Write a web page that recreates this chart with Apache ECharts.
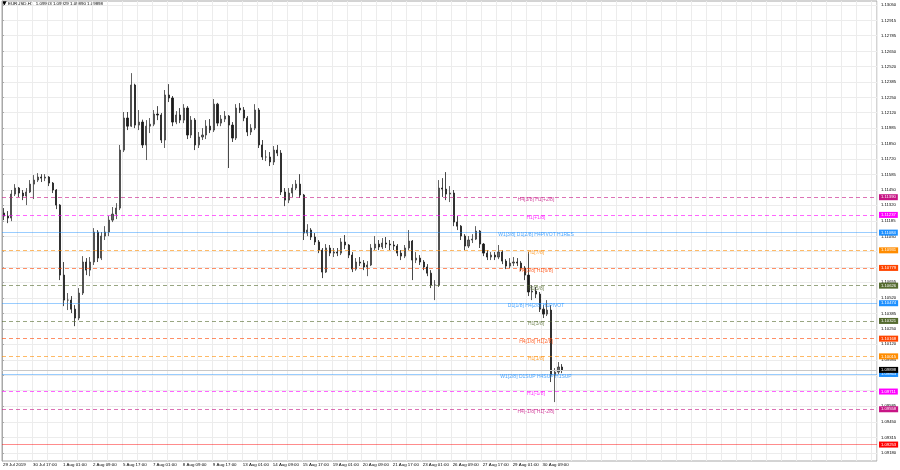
<!DOCTYPE html>
<html><head><meta charset="utf-8">
<script src="https://cdn.jsdelivr.net/npm/echarts@6/dist/echarts.min.js"></script>
<style>html,body{margin:0;padding:0;background:#fff}#c{width:900px;height:470px}</style>
</head><body><div id="c"></div>
<script>
const symbolTitle = 'EURUSD,H1';
const lastBar = [1.09903, 1.09929, 1.09890, 1.09898];
const dateLabels = ['29 Jul 2019','30 Jul 17:00','1 Aug 01:00','2 Aug 09:00','5 Aug 17:00','7 Aug 01:00','8 Aug 09:00','9 Aug 17:00','13 Aug 01:00','14 Aug 09:00','15 Aug 17:00','19 Aug 01:00','20 Aug 09:00','21 Aug 17:00','23 Aug 01:00','26 Aug 09:00','27 Aug 17:00','29 Aug 01:00','30 Aug 09:00'];
const yTickLabels = ['1.13050','1.12915','1.12785','1.12650','1.12520','1.12385','1.12250','1.12120','1.11985','1.11850','1.11720','1.11585','1.11450','1.11320','1.11185','1.11050','1.10920','1.10785','1.10655','1.10520','1.10385','1.10250','1.10120','1.09985','1.09850','1.09720','1.09585','1.09450','1.09315','1.09180'];

// H4-aggregated candles
const opens = [1.11253,1.11227,1.11210,1.11417,1.11469,1.11426,1.11400,1.11435,1.11503,1.11538,
1.11564,1.11555,1.11564,1.11512,1.11452,1.11322,1.10717,1.10501,1.10501,1.10423,
1.10346,1.10562,1.10830,1.10760,1.10830,1.11089,1.10864,1.11054,1.11089,1.11192,
1.11244,1.11296,1.11797,1.12074,1.12004,1.12359,1.12013,1.12039,1.11841,1.12004,
1.12021,1.12108,1.12100,1.11884,1.12273,1.12247,1.12039,1.12100,1.12056,1.12160,
1.11927,1.12056,1.11841,1.11910,1.11927,1.12004,1.11970,1.12194,1.12030,1.12065,
1.12091,1.12013,1.11901,1.12160,1.12143,1.12074,1.11953,1.11987,1.12143,1.11841,
1.11737,1.11737,1.11694,1.11797,1.11771,1.11435,1.11365,1.11426,1.11469,1.11503,
1.11409,1.11080,1.11106,1.11046,1.11003,1.10933,1.10743,1.10951,1.10907,1.10916,
1.10907,1.11003,1.10977,1.10890,1.10769,1.10830,1.10821,1.10787,1.10804,1.10951,
1.10985,1.10960,1.10994,1.10985,1.10977,1.10968,1.10907,1.10881,1.10951,1.11011,
1.10847,1.10864,1.10830,1.10787,1.10734,1.10631,1.10631,1.11469,1.11460,1.11417,
1.11426,1.11175,1.11140,1.11054,1.10968,1.11020,1.11028,1.11097,1.10985,1.10907,
1.10873,1.10890,1.10873,1.10916,1.10838,1.10795,1.10821,1.10830,1.10821,1.10778,
1.10717,1.10571,1.10579,1.10553,1.10423,1.10380,1.10415,1.09853,1.09879,1.09923];
const highs = [1.11296,1.11270,1.11452,1.11503,1.11478,1.11452,1.11469,1.11538,1.11581,1.11598,
1.11589,1.11589,1.11572,1.11521,1.11460,1.11330,1.10830,1.10562,1.10536,1.10458,
1.10605,1.10881,1.10864,1.10873,1.11123,1.11106,1.11089,1.11140,1.11227,1.11305,
1.11339,1.11841,1.12126,1.12126,1.12462,1.12370,1.12143,1.12060,1.12056,1.12074,
1.12143,1.12177,1.12117,1.12316,1.12367,1.12264,1.12134,1.12160,1.12194,1.12177,
1.12091,1.12074,1.11953,1.11987,1.12056,1.12065,1.12238,1.12205,1.12100,1.12134,
1.12100,1.12039,1.12194,1.12203,1.12169,1.12091,1.12021,1.12194,1.12160,1.11884,
1.11797,1.11780,1.11832,1.11841,1.11797,1.11469,1.11469,1.11503,1.11538,1.11589,
1.11418,1.11157,1.11123,1.11080,1.11020,1.10951,1.10985,1.10977,1.10951,1.10951,
1.11037,1.11063,1.10985,1.10916,1.10864,1.10873,1.10847,1.10838,1.10985,1.11054,
1.11020,1.11037,1.11046,1.11020,1.11011,1.10985,1.10933,1.10977,1.11106,1.11020,
1.10916,1.10890,1.10847,1.10812,1.10760,1.10674,1.11538,1.11555,1.11607,1.11486,
1.11452,1.11227,1.11149,1.11071,1.11054,1.11071,1.11140,1.11106,1.10994,1.10933,
1.10916,1.10916,1.10977,1.10933,1.10855,1.10864,1.10873,1.10864,1.10838,1.10795,
1.10916,1.10631,1.10614,1.10571,1.10458,1.10501,1.10458,1.09914,1.09966,1.09948];
const lows = [1.11192,1.11166,1.11183,1.11400,1.11392,1.11365,1.11322,1.11426,1.11374,1.11521,
1.11521,1.11529,1.11486,1.11426,1.11287,1.10674,1.10449,1.10415,1.10389,1.10276,
1.10328,1.10545,1.10717,1.10708,1.10804,1.10830,1.10847,1.11020,1.11054,1.11175,
1.11201,1.11279,1.11780,1.11970,1.11996,1.11987,1.11970,1.11815,1.11711,1.11944,
1.12004,1.12056,1.11858,1.11815,1.12212,1.12004,1.12021,1.12030,1.12030,1.11892,
1.11901,1.11797,1.11815,1.11884,1.11892,1.11944,1.11953,1.12004,1.12004,1.12039,
1.11642,1.11867,1.11884,1.12117,1.12047,1.11918,1.11927,1.11970,1.11815,1.11711,
1.11702,1.11659,1.11668,1.11745,1.11409,1.11313,1.11339,1.11392,1.11452,1.11383,
1.11020,1.11054,1.11020,1.10977,1.10907,1.10691,1.10735,1.10881,1.10873,1.10881,
1.10890,1.10942,1.10864,1.10743,1.10755,1.10795,1.10760,1.10708,1.10795,1.10933,
1.10933,1.10942,1.10951,1.10933,1.10933,1.10881,1.10847,1.10864,1.10933,1.10674,
1.10821,1.10804,1.10760,1.10708,1.10605,1.10501,1.10614,1.11392,1.11365,1.11348,
1.11140,1.11106,1.11020,1.10933,1.10951,1.10994,1.11020,1.10951,1.10881,1.10847,
1.10847,1.10847,1.10855,1.10812,1.10769,1.10778,1.10795,1.10795,1.10751,1.10674,
1.10536,1.10501,1.10519,1.10398,1.10346,1.10363,1.09793,1.09620,1.09861,1.09870];
const closes = [1.11227,1.11210,1.11417,1.11469,1.11426,1.11400,1.11435,1.11503,1.11538,1.11564,
1.11555,1.11564,1.11512,1.11452,1.11322,1.10717,1.10501,1.10501,1.10423,1.10346,
1.10562,1.10830,1.10760,1.10830,1.11089,1.10864,1.11054,1.11089,1.11192,1.11244,
1.11296,1.11797,1.12074,1.12004,1.12359,1.12013,1.12039,1.11841,1.12004,1.12021,
1.12108,1.12100,1.11884,1.12273,1.12247,1.12039,1.12100,1.12056,1.12160,1.11927,
1.12056,1.11841,1.11910,1.11927,1.12004,1.11970,1.12194,1.12030,1.12065,1.12091,
1.12013,1.11901,1.12160,1.12143,1.12074,1.11953,1.11987,1.12143,1.11841,1.11737,
1.11737,1.11694,1.11797,1.11771,1.11435,1.11365,1.11426,1.11469,1.11503,1.11409,
1.11080,1.11106,1.11046,1.11003,1.10933,1.10743,1.10951,1.10907,1.10916,1.10907,
1.11003,1.10977,1.10890,1.10769,1.10830,1.10821,1.10787,1.10804,1.10951,1.10985,
1.10960,1.10994,1.10985,1.10977,1.10968,1.10907,1.10881,1.10951,1.11011,1.10847,
1.10864,1.10830,1.10787,1.10734,1.10631,1.10631,1.11469,1.11460,1.11417,1.11426,
1.11175,1.11140,1.11054,1.10968,1.11020,1.11028,1.11097,1.10985,1.10907,1.10873,
1.10890,1.10873,1.10916,1.10838,1.10795,1.10821,1.10830,1.10821,1.10778,1.10717,
1.10571,1.10579,1.10553,1.10423,1.10380,1.10415,1.09853,1.09879,1.09923,1.09898];

const levelPrices = [1.11390,1.11237,1.11084,1.10931,1.10779,1.10626,1.10474,1.10321,1.10168,1.10015,1.09863,1.09711,1.09558,1.09253];
const levelNames = ['H4[3/8] H1[+2/8]','H1[+1/8]','W1[3/8] D1[2/8] H4PIVOT H1RES','H1[7/8]','H4[3/8] H1[6/8]','H1[5/8]','D1[1/8] H4[2/8] H1PIVOT','H1[3/8]','H4[1/8] H1[2/8]','H1[1/8]','W1[2/8] D1SUP H4SUP H1SUP','H1[-1/8]','H4[-1/8] H1[-2/8]',''];
const levelColors = ['#C71585','#FF00FF','#1E90FF','#FF8C00','#FF4500','#556B2F','#1E90FF','#556B2F','#FF4500','#FF8C00','#1E90FF','#FF00FF','#C71585','#FF0000'];
const levelDashed = [true,true,false,true,true,true,false,true,true,true,false,true,true,false];
const bidPrice = 1.09898;

const HOURS_PER_BAR = 4, HOURS_PER_LABEL = 32, GRID_STEP = 16, TEXT_X = 570, X_MAX = 934;
const FONT = 'Liberation Sans, Arial, sans-serif';

function fade(hex, a) {
  const n = parseInt(hex.slice(1), 16);
  return 'rgba(' + (n >> 16) + ',' + ((n >> 8) & 255) + ',' + (n & 255) + ',' + a + ')';
}

const candleData = opens.map((o, i) => [i * HOURS_PER_BAR + HOURS_PER_BAR / 2, o, closes[i], lows[i], highs[i]]);
const yTickValues = yTickLabels.map(Number);

const markLineData = levelPrices.map((p, i) => ({
  yAxis: p,
  lineStyle: { color: fade(levelColors[i], levelDashed[i] ? 0.6 : 0.45), type: levelDashed[i] ? [4, 3] : 'solid', width: 1 },
  label: { backgroundColor: levelColors[i] }
}));
markLineData.push({ yAxis: bidPrice, lineStyle: { color: '#c8c8c8', type: 'solid', width: 1 }, label: { backgroundColor: '#000' } });

const anchorData = levelPrices.map(p => [TEXT_X, p]);
const textData = levelPrices.map((p, i) => ({ value: [TEXT_X, p], name: levelNames[i], label: { color: levelColors[i] } })).filter(d => d.name);

const chart = echarts.init(document.getElementById('c'), null, { renderer: 'canvas' });
chart.setOption({
  animation: false,
  backgroundColor: '#fff',
  grid: { left: 1, top: 1, right: 23, bottom: 9, show: true, borderColor: '#a8a8a8', borderWidth: 1 },
  xAxis: {
    type: 'value', min: 0, max: X_MAX, interval: GRID_STEP,
    axisLine: { show: false }, axisTick: { show: false },
    splitLine: { show: true, lineStyle: { color: '#ececec', width: 1 } },
    axisLabel: {
      show: true, fontSize: 4.4, fontFamily: FONT, color: '#000', margin: 2, align: 'left', padding: [0, 0, 0, 1],
      showMinLabel: true, showMaxLabel: false,
      formatter: v => (v % HOURS_PER_LABEL === 0 && v / HOURS_PER_LABEL < dateLabels.length) ? dateLabels[v / HOURS_PER_LABEL] : ''
    }
  },
  yAxis: {
    type: 'value', position: 'right', min: 1.09111, max: 1.13085, scale: true,
    axisLine: { show: true, lineStyle: { color: '#a8a8a8', width: 1 } },
    axisTick: { show: true, length: 2, customValues: yTickValues, lineStyle: { color: '#a8a8a8' } },
    splitLine: { show: true, lineStyle: { color: '#ececec', width: 1 } },
    axisLabel: { customValues: yTickValues, fontSize: 4.2, fontFamily: FONT, color: '#000', margin: 4, formatter: v => v.toFixed(5) }
  },
  graphic: [
    { type: 'text', left: 2, top: 0, style: { text: '\u25BC', fontSize: 6, fontFamily: 'DejaVu Sans', fill: '#000' } },
    { type: 'text', left: 8, top: 2, style: { text: symbolTitle + '  ' + lastBar.map(v => v.toFixed(5)).join(' '), fontSize: 4.4, fontFamily: FONT, fill: '#000' } }
  ],
  series: [
    {
      type: 'scatter', data: anchorData, symbolSize: 0, z: 1, silent: true,
      markLine: {
        silent: true, symbol: ['none', 'none'], animation: false, precision: 5,
        label: { show: true, position: 'end', distance: 2, color: '#fff', fontSize: 4.2, fontFamily: FONT, padding: [1, 2, 1, 2], formatter: p => Number(p.value).toFixed(5) },
        data: markLineData
      }
    },
    {
      type: 'candlestick', data: candleData, encode: { x: 0, y: [1, 2, 3, 4] }, barWidth: 1.6, z: 3,
      itemStyle: { color: '#666666', color0: '#1a1a1a', borderColor: '#3a3a3a', borderColor0: '#1a1a1a', borderWidth: 0.8 }
    },
    {
      type: 'scatter', data: textData, symbolSize: 0, z: 5, silent: true,
      label: { show: true, position: 'bottom', distance: 0, fontSize: 5, fontFamily: FONT, formatter: '{b}' }
    }
  ]
});
</script></body></html>
